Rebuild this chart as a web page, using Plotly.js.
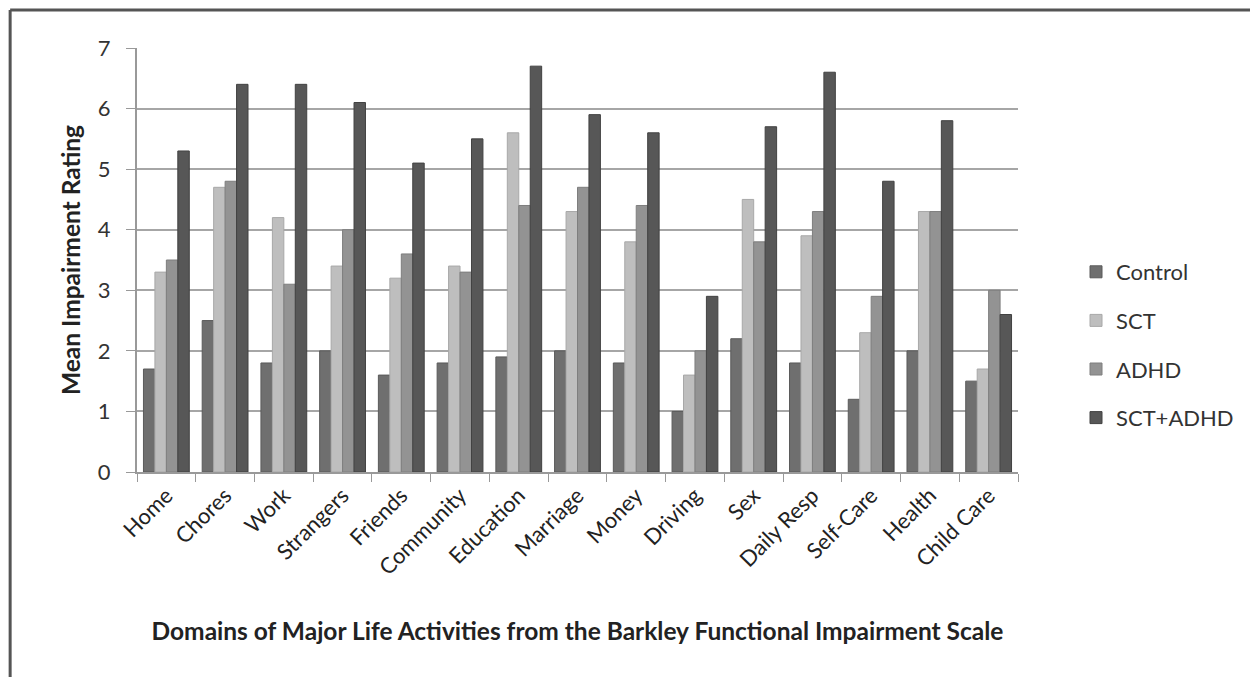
<!DOCTYPE html>
<html>
<head>
<meta charset="utf-8">
<script src="https://cdn.plot.ly/plotly-3.0.1.min.js"></script>
<style>html,body{margin:0;padding:0;background:#fff;}#chart{width:1250px;height:677px;}</style>
</head>
<body>
<div id="chart"></div>
<script>
const categories = ["Home","Chores","Work","Strangers","Friends","Community","Education","Marriage","Money","Driving","Sex","Daily Resp","Self-Care","Health","Child Care"];
const control  = [1.7, 2.5, 1.8, 2.0, 1.6, 1.8, 1.9, 2.0, 1.8, 1.0, 2.2, 1.8, 1.2, 2.0, 1.5];
const sct      = [3.3, 4.7, 4.2, 3.4, 3.2, 3.4, 5.6, 4.3, 3.8, 1.6, 4.5, 3.9, 2.3, 4.3, 1.7];
const adhd     = [3.5, 4.8, 3.1, 4.0, 3.6, 3.3, 4.4, 4.7, 4.4, 2.0, 3.8, 4.3, 2.9, 4.3, 3.0];
const sctAdhd  = [5.3, 6.4, 6.4, 6.1, 5.1, 5.5, 6.7, 5.9, 5.6, 2.9, 5.7, 6.6, 4.8, 5.8, 2.6];
const seriesNames = ["Control","SCT","ADHD","SCT+ADHD"];
const yTicks = [0,1,2,3,4,5,6,7];

const colors = ["#6f6f6f","#bebebe","#939393","#575757"];
const lines  = ["#5a5a5a","#a8a8a8","#7e7e7e","#424242"];
const vals = [control, sct, adhd, sctAdhd];

const traces = vals.map((v,i)=>({
  type:'bar', name:seriesNames[i], x:categories, y:v,
  legendgroup:'g'+i,
  marker:{color:colors[i], line:{color:lines[i], width:1}},
  hoverinfo:'x+y+name'
}));

const font = "Lato, 'Open Sans', 'DejaVu Sans', sans-serif";
const L=137, R=1019, T=48, B=472;
const W=R-L, H=B-T;
const px = x => (x-L)/W;
const py = y => (B-y)/H;

const layout = {
  width:1250, height:677,
  margin:{l:L, r:1250-R, t:T, b:677-B, pad:0},
  paper_bgcolor:'#fff', plot_bgcolor:'#fff',
  font:{family:font, size:22, color:'#222'},
  barmode:'group', bargap:0.22, bargroupgap:0,
  showlegend:true,
  legend:{x:px(1076), y:py(345), xanchor:'left', yanchor:'middle',
          font:{family:font, size:22, color:'#333'},
          traceorder:'grouped', tracegroupgap:17, itemwidth:30, bgcolor:'rgba(0,0,0,0)'},
  xaxis:{type:'category', tickangle:-45, ticks:'outside', ticklen:8, tickcolor:'#999',
         tickson:'boundaries', showline:true, linecolor:'#999', linewidth:2,
         showgrid:false, tickfont:{family:font, size:22, color:'#222'},
         title:{text:'<b>Domains of Major Life Activities from the Barkley Functional Impairment Scale</b>',
                font:{family:font, size:24.5, color:'#222'}, standoff:44},
         automargin:false},
  yaxis:{range:[0,7], tickvals:yTicks, ticktext:yTicks.map(String), ticks:'outside', ticklen:9,
         tickcolor:'#999', showline:true, linecolor:'#999', linewidth:2, ticklabelstandoff:11,
         showgrid:true, gridcolor:'#a6a6a6', gridwidth:2, zeroline:false,
         tickfont:{family:font, size:22, color:'#333'},
         title:{text:'<b>Mean Impairment Rating</b>', font:{family:font, size:24.5, color:'#222'}, standoff:10},
         automargin:false},
  shapes:[
    {type:'line', xref:'paper', yref:'paper', x0:px(10), x1:px(10), y0:py(10), y1:py(690), line:{color:'#555', width:3}},
    {type:'line', xref:'paper', yref:'paper', x0:px(10), x1:px(1260), y0:py(10), y1:py(10), line:{color:'#555', width:3}}
  ]
};

Plotly.newPlot('chart', traces, layout, {displayModeBar:false, staticPlot:true});
</script>
</body>
</html>
